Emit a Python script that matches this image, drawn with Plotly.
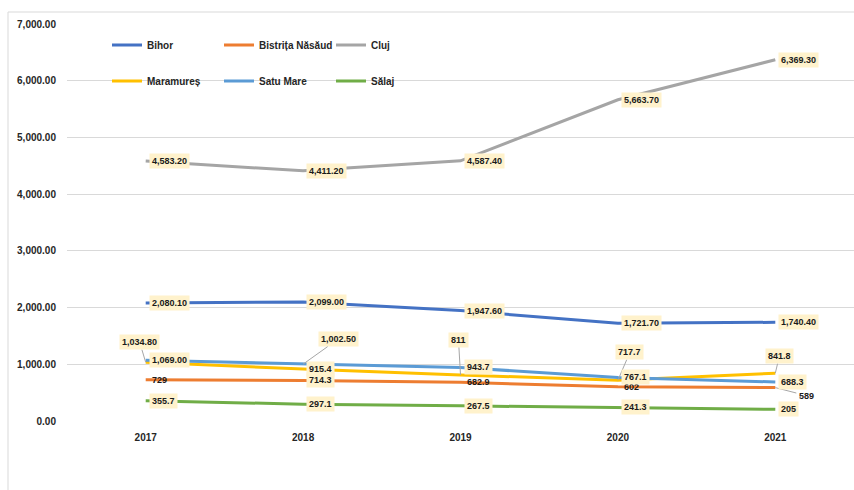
import plotly.graph_objects as go

years = ["2017", "2018", "2019", "2020", "2021"]
bihor = [2080.1, 2099.0, 1947.6, 1721.7, 1740.4]
bistrita = [729, 714.3, 682.9, 602, 589]
cluj = [4583.2, 4411.2, 4587.4, 5663.7, 6369.3]
maramures = [1034.8, 915.4, 811, 717.7, 841.8]
satu_mare = [1069.0, 1002.5, 943.7, 767.1, 688.3]
salaj = [355.7, 297.1, 267.5, 241.3, 205]

series = [
    ("Bihor", bihor, "#4472C4", "legend"),
    ("Bistrița Năsăud", bistrita, "#ED7D31", "legend"),
    ("Cluj", cluj, "#A5A5A5", "legend"),
    ("Maramureș", maramures, "#FFC000", "legend2"),
    ("Satu Mare", satu_mare, "#5B9BD5", "legend2"),
    ("Sălaj", salaj, "#70AD47", "legend2"),
]

FONT = "Liberation Sans"
fig = go.Figure()
for name, vals, col, lg in series:
    fig.add_trace(go.Scatter(x=years, y=vals, name=name, mode="lines",
                             line=dict(color=col, width=3), legend=lg))

def fmt(name, v):
    if name in ("Bihor", "Cluj") or v >= 1000:
        return "{:,.2f}".format(v)
    return "{:g}".format(v)

# callout label offsets (pixels from point to label centre)
callouts = {
    ("Maramureș", 0): (-6, -20),
    ("Satu Mare", 1): (35, -25),
    ("Maramureș", 2): (-2, -35),
    ("Maramureș", 3): (12, -28),
    ("Maramureș", 4): (4, -17),
    ("Bistrița Năsăud", 4): (31, 8),
}
no_box = {("Bistrița Năsăud", 0), ("Bistrița Năsăud", 2),
          ("Bistrița Năsăud", 3), ("Bistrița Năsăud", 4)}

lab_font = dict(family=FONT, size=9, color="#1a1a1a", weight="bold")
for name, vals, col, lg in series:
    for i, v in enumerate(vals):
        key = (name, i)
        bg = "rgba(0,0,0,0)" if key in no_box else "#FFF2CC"
        if key in callouts:
            ax, ay = callouts[key]
            fig.add_annotation(x=i, y=v, xref="x", yref="y", text=fmt(name, v),
                               showarrow=True, arrowhead=0, arrowwidth=1,
                               arrowcolor="#A6A6A6", ax=ax, ay=ay, standoff=0,
                               bgcolor=bg, borderpad=2, font=lab_font)
        else:
            fig.add_annotation(x=i, y=v, xref="x", yref="y", text=fmt(name, v),
                               showarrow=False, xanchor="left", xshift=3,
                               bgcolor=bg, borderpad=2, font=lab_font)

# outer chart border (top and left visible)
fig.add_shape(type="rect", xref="paper", yref="paper",
              x0=(8 - 67) / 787, x1=1.1, y0=-0.3, y1=(421 - 12) / 397,
              line=dict(color="#D9D9D9", width=1), layer="below")

leg_common = dict(orientation="h", entrywidth=67, entrywidthmode="pixels",
                  font=dict(family=FONT, size=10, color="#262626", weight="bold"),
                  bgcolor="rgba(0,0,0,0)", xanchor="left", yanchor="middle",
                  itemclick=False)
fig.update_layout(
    width=854, height=490,
    margin=dict(l=67, r=0, t=24, b=69),
    paper_bgcolor="white", plot_bgcolor="white",
    showlegend=True,
    legend=dict(x=(107 - 67) / 787, y=(421 - 45) / 397, **leg_common),
    legend2=dict(x=(107 - 67) / 787, y=(421 - 81) / 397, **leg_common),
    xaxis=dict(type="category", range=[-0.5, 4.5], showgrid=False, zeroline=False,
               showline=False, ticks="", ticklabelstandoff=9,
               tickfont=dict(family=FONT, size=10, color="#262626", weight="bold")),
    yaxis=dict(range=[0, 7000], dtick=1000, tickformat=",.2f", showgrid=True,
               gridcolor="#D9D9D9", gridwidth=1, zeroline=False, showline=False,
               ticks="", ticklabelstandoff=10,
               tickfont=dict(family=FONT, size=10, color="#262626", weight="bold")),
)
fig.write_html("out.html")
